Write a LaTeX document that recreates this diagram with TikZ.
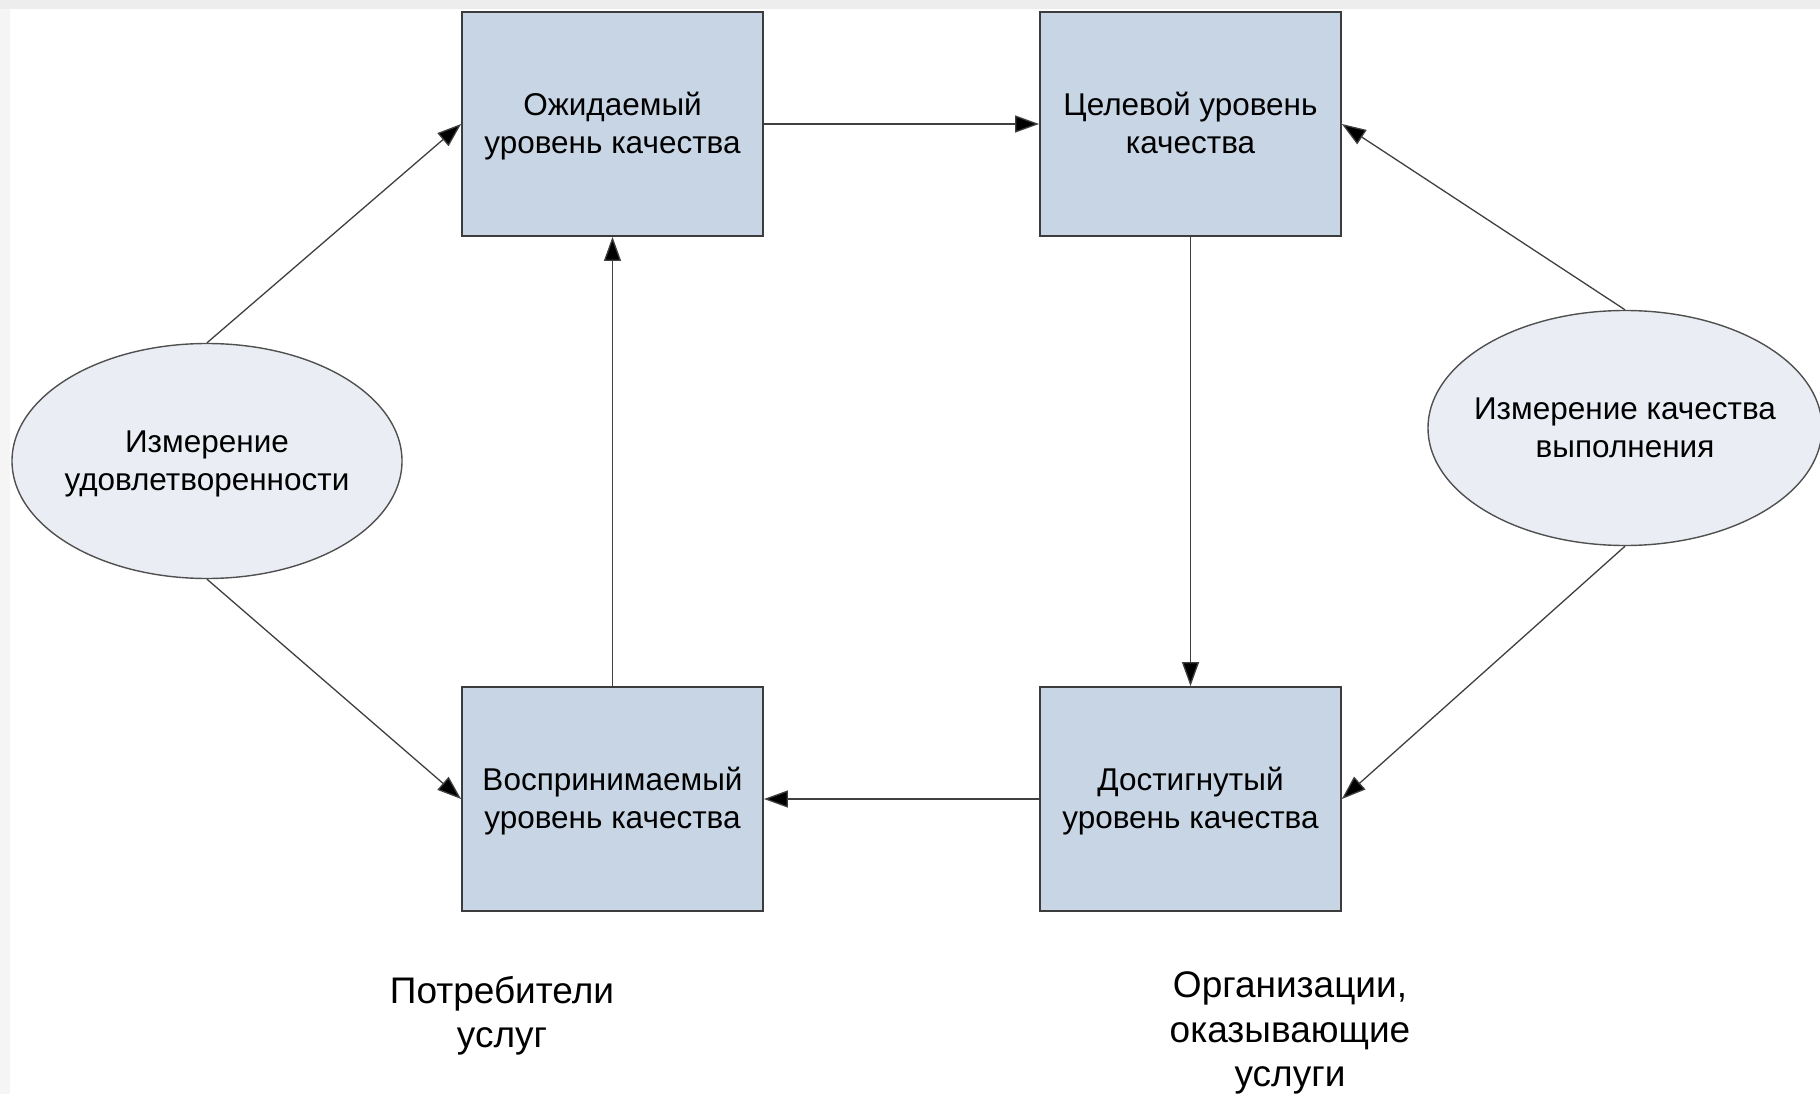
\documentclass[tikz,border=0pt]{standalone}
\usepackage{fontspec}
\setmainfont{Liberation Sans}
\usetikzlibrary{shapes.geometric,arrows.meta}
\definecolor{boxfill}{HTML}{C8D5E4}
\definecolor{ellfill}{HTML}{EAEEF4}
\definecolor{boxline}{HTML}{3C3C3C}
\definecolor{ellline}{HTML}{505050}
\definecolor{conn}{HTML}{404040}
\definecolor{bandtop}{HTML}{EDEDED}
\definecolor{bandleft}{HTML}{F5F5F5}
\tikzset{
  qbox/.style={draw=boxline, line width=1.8pt, fill=boxfill, rectangle,
    minimum width=301pt, minimum height=224pt, inner sep=0pt, align=center,
    text depth=2pt, font={\fontsize{31.5}{38}\selectfont}},
  qell/.style={draw=ellline, line width=1.4pt, fill=ellfill, ellipse,
    minimum width=394pt, minimum height=235pt, inner sep=0pt},
  qelltext/.style={align=center, inner sep=0pt, text depth=1pt,
    font={\fontsize{31.5}{38}\selectfont}},
  qlabel/.style={align=center, inner sep=0pt, font={\fontsize{37}{44.5}\selectfont}},
  qarrow/.style={draw=conn, line width=1.3pt, -{Triangle[length=24pt,width=17pt,fill=black]}}
}
\begin{document}
\begin{tikzpicture}[x=1pt,y=-1pt]
\useasboundingbox (0,0) rectangle (1820,1094);
\fill[white] (0,0) rectangle (1820,1094);
\fill[bandtop] (0,0) rectangle (1820,9);
\fill[bandleft] (0,9) rectangle (10,1094);

\node[qbox] (b1) at (612.5,124) {Ожидаемый\\уровень качества};
\node[qbox] (b2) at (1190.5,124) {Целевой уровень\\качества};
\node[qbox] (b3) at (612.5,799) {Воспринимаемый\\уровень качества};
\node[qbox] (b4) at (1190.5,799) {Достигнутый\\уровень качества};

\node[qell, minimum width=390pt] (e1) at (207,461) {};
\node[qelltext] (t1) at (e1.center) {Измерение\\удовлетворенности};
\node[qell] (e2) at (1625,428) {};
\node[qelltext] (t2) at (e2.center) {Измерение качества\\выполнения};

\node[qlabel] (l1) at (502,1016) {Потребители\\услуг};
\node[qlabel] (l2) at (1290,1033) {Организации,\\оказывающие\\услуги};

\draw[qarrow] (b1.east) -- (b2.west);
\draw[qarrow] (b2.south) -- (b4.north);
\draw[qarrow] (b4.west) -- (b3.east);
\draw[qarrow] (b3.north) -- (b1.south);
\draw[qarrow] (e1.north) -- (b1.west);
\draw[qarrow] (e1.south) -- (b3.west);
\draw[qarrow] (e2.north) -- (b2.east);
\draw[qarrow] (e2.south) -- (b4.east);
\end{tikzpicture}
\end{document}
